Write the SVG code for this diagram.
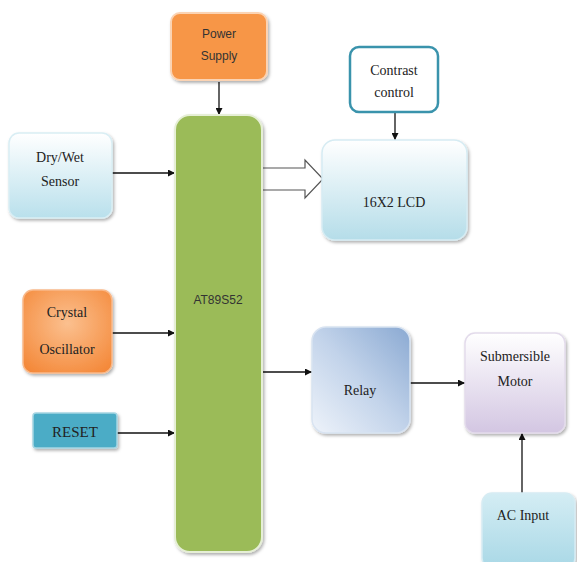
<svg xmlns="http://www.w3.org/2000/svg" width="577" height="562" viewBox="0 0 577 562">
<defs>
<linearGradient id="gBlue" x1="0" y1="0" x2="0" y2="1"><stop offset="0" stop-color="#ffffff"/><stop offset="1" stop-color="#b9e0ec"/></linearGradient>
<linearGradient id="gLcd" x1="0" y1="0" x2="0" y2="1"><stop offset="0" stop-color="#ffffff"/><stop offset="1" stop-color="#b5dde9"/></linearGradient>
<linearGradient id="gRelay" x1="0" y1="1" x2="1" y2="0"><stop offset="0" stop-color="#eef3fa"/><stop offset="0.5" stop-color="#c2d3ea"/><stop offset="1" stop-color="#8aa9d2"/></linearGradient>
<linearGradient id="gMotor" x1="0" y1="0" x2="0" y2="1"><stop offset="0" stop-color="#ffffff"/><stop offset="1" stop-color="#d3c6e2"/></linearGradient>
<radialGradient id="gCrystal" cx="0.5" cy="0.4" r="0.7"><stop offset="0" stop-color="#fbc08f"/><stop offset="1" stop-color="#f4893a"/></radialGradient>
<linearGradient id="gAc" x1="0" y1="0" x2="0" y2="1"><stop offset="0" stop-color="#d4edf4"/><stop offset="1" stop-color="#a9d8e6"/></linearGradient>
<filter id="sh" x="-10%" y="-10%" width="125%" height="125%"><feDropShadow dx="1.5" dy="2" stdDeviation="1.5" flood-color="#000" flood-opacity="0.3"/></filter>
<marker id="ah" viewBox="0 0 10 10" refX="10" refY="5" markerWidth="7" markerHeight="7" orient="auto" markerUnits="userSpaceOnUse"><path d="M0,0 L10,5 L0,10 z" fill="#111"/></marker>
</defs>
<style>
.serif{font-family:"Liberation Serif","Times New Roman",serif;font-size:14px;fill:#222;text-anchor:middle}
.sans{font-family:"Liberation Sans",Arial,sans-serif;font-size:12px;fill:#333;text-anchor:middle}
.ln{stroke:#111;stroke-width:1.3;fill:none;marker-end:url(#ah)}
</style>
<rect width="577" height="562" fill="#ffffff"/>

<g id="connectors">
<line class="ln" x1="219" y1="82" x2="219" y2="115"/>
<line class="ln" x1="112" y1="173" x2="175" y2="173"/>
<line class="ln" x1="112" y1="333" x2="175" y2="333"/>
<line class="ln" x1="112" y1="433" x2="175" y2="433"/>
<line class="ln" x1="395" y1="112" x2="395" y2="140"/>
<line class="ln" x1="262" y1="372" x2="312" y2="372"/>
<line class="ln" x1="410" y1="383" x2="465" y2="383"/>
<line class="ln" x1="522" y1="493" x2="522" y2="433"/>
<path d="M262,168 H305 V160 L323,179 L305,198 V190 H262" fill="#ffffff" stroke="#555" stroke-width="1.2"/>
</g>

<g id="power">
<rect x="171" y="13" width="96" height="67" rx="9" fill="#f79646" stroke="#fbd3b3" stroke-width="2" filter="url(#sh)"/>
<text class="sans" x="219" y="38">Power</text>
<text class="sans" x="219" y="60">Supply</text>
</g>

<g id="mcu">
<rect x="175" y="115" width="87" height="437" rx="15" fill="#9bbb59" stroke="#e6efd6" stroke-width="2" filter="url(#sh)"/>
<text class="sans" x="218" y="304">AT89S52</text>
</g>

<g id="sensor">
<rect x="9" y="133" width="103" height="85" rx="10" fill="url(#gBlue)" stroke="#d9eef4" stroke-width="1.5" filter="url(#sh)"/>
<text class="serif" x="60" y="162">Dry/Wet</text>
<text class="serif" x="60" y="186">Sensor</text>
</g>

<g id="crystal">
<rect x="23" y="290" width="89" height="83" rx="10" fill="url(#gCrystal)" stroke="#f9b98a" stroke-width="1.5" filter="url(#sh)"/>
<text class="serif" x="67" y="317">Crystal</text>
<text class="serif" x="67" y="354">Oscillator</text>
</g>

<g id="reset">
<rect x="33" y="413" width="84" height="35" rx="3" fill="#4bacc6" stroke="#a5d5e2" stroke-width="1.5" filter="url(#sh)"/>
<text class="serif" x="75" y="437" style="font-size:15px">RESET</text>
</g>

<g id="contrast">
<rect x="350" y="47" width="88" height="65" rx="9" fill="#ffffff" stroke="#3a93ac" stroke-width="2.5"/>
<text class="serif" x="394" y="75">Contrast</text>
<text class="serif" x="394" y="97">control</text>
</g>

<g id="lcd">
<rect x="322" y="140" width="145" height="100" rx="13" fill="url(#gLcd)" stroke="#d6ecf3" stroke-width="1.5" filter="url(#sh)"/>
<text class="serif" x="394" y="207">16X2 LCD</text>
</g>

<g id="relay">
<rect x="312" y="327" width="98" height="106" rx="14" fill="url(#gRelay)" stroke="#d8e3f1" stroke-width="1.5" filter="url(#sh)"/>
<text class="serif" x="360" y="395">Relay</text>
</g>

<g id="motor">
<rect x="465" y="333" width="100" height="100" rx="10" fill="url(#gMotor)" stroke="#e3dbeb" stroke-width="1.5" filter="url(#sh)"/>
<text class="serif" x="515" y="361">Submersible</text>
<text class="serif" x="515" y="386">Motor</text>
</g>

<g id="acinput">
<rect x="482" y="493" width="93" height="75" rx="10" fill="url(#gAc)" stroke="#d6ecf3" stroke-width="1.5" filter="url(#sh)"/>
<text class="serif" x="523" y="520">AC Input</text>
</g>
</svg>
